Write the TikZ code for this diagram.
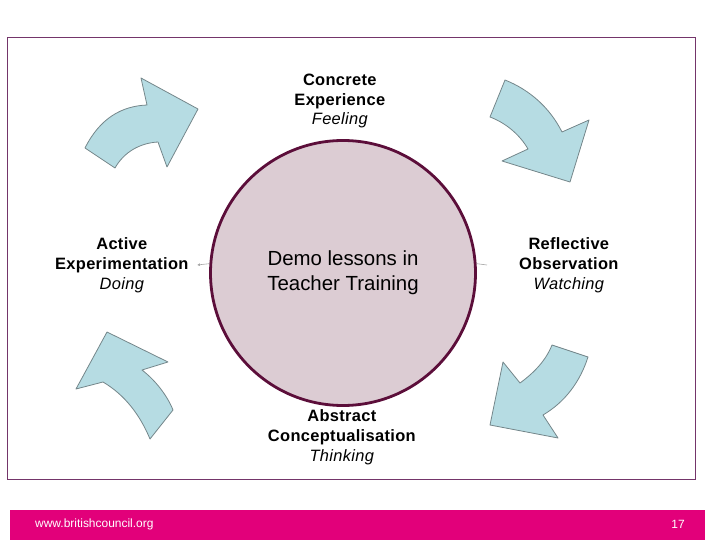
\documentclass[tikz,border=0pt]{standalone}
\usepackage{fontspec}
\setmainfont{Liberation Sans}
\newfontfamily\stagefont[LetterSpace=2]{Liberation Sans}
\usetikzlibrary{arrows.meta}
\definecolor{cyclefill}{HTML}{B6DCE3}
\definecolor{cycleedge}{HTML}{74868A}
\definecolor{hubfill}{HTML}{DCCCD3}
\definecolor{hubedge}{HTML}{5C0E3A}
\definecolor{framecol}{HTML}{74356A}
\definecolor{bcpink}{HTML}{E2007A}

\begin{document}
\begin{tikzpicture}[x=1bp,y=-1bp,>=Latex,
stage/.style={align=center,font=\stagefont\fontsize{16.5}{20}\selectfont,inner sep=0pt},
hub/.style={circle,draw=hubedge,line width=2.8bp,fill=hubfill,minimum size=265bp,inner sep=0pt,align=center,font=\fontsize{20.5}{25}\selectfont},
bendarrow/.style={fill=cyclefill,draw=cycleedge,line width=0.8bp,line join=round},
stub/.style={->,draw=gray!70,line width=0.6bp,>={Latex[length=3bp,width=3bp]}},
foot/.style={text=white,font=\fontsize{12}{14}\selectfont,inner sep=0pt}]
\useasboundingbox (0,0) rectangle (720,540);
\draw[framecol,line width=0.8bp] (7,37) rectangle (695,479);
% the four cycle arrows
\filldraw[bendarrow] (85,148) .. controls (100,118) and (122,106) .. (147,105) -- (141,78) -- (198,109) -- (167,167) -- (158,142) .. controls (140,143) and (124,152) .. (115,168) -- cycle;
\filldraw[bendarrow] (505,80) .. controls (530,90) and (550,108) .. (562,132) -- (589,120) -- (570,182) -- (502,161) -- (528,149) .. controls (520,135) and (506,123) .. (490,117) -- cycle;
\filldraw[bendarrow] (552,345) -- (588,357) .. controls (580,382) and (565,402) .. (543,415) -- (558,438) -- (490,425) -- (503,362) -- (520,383) .. controls (535,372) and (546,360) .. (552,345) -- cycle;
\filldraw[bendarrow] (107,332) -- (168,362) -- (142,370) .. controls (155,380) and (167,395) .. (173,410) -- (150,439) .. controls (140,415) and (125,395) .. (103,382) -- (76,389) -- cycle;
\node[hub] (hub) at (343,273) {Demo lessons in\\Teacher Training};
\node[stage] (concrete) at (340,101) {\textbf{Concrete}\\\textbf{Experience}\\\textit{Feeling}};
\node[stage] (reflective) at (569,265) {\textbf{Reflective}\\\textbf{Observation}\\\textit{Watching}};
\node[stage] (abstract) at (342,437) {\textbf{Abstract}\\\textbf{Conceptualisation}\\\textit{Thinking}};
\node[stage] (active) at (122,265) {\textbf{Active}\\\textbf{Experimentation}\\\textit{Doing}};
\coordinate (doingtip) at (197,265);
\coordinate (watchtip) at (487,265);
\draw[stub] (hub.176) -- (doingtip);
\draw[stub,-] (hub.4) -- (watchtip);
% footer
\fill[bcpink] (10,510) rectangle (705,540);
\node[foot,anchor=west] (site) at (35,524) {www.britishcouncil.org};
\node[foot] (page) at (678,524) {17};
\end{tikzpicture}
\end{document}
